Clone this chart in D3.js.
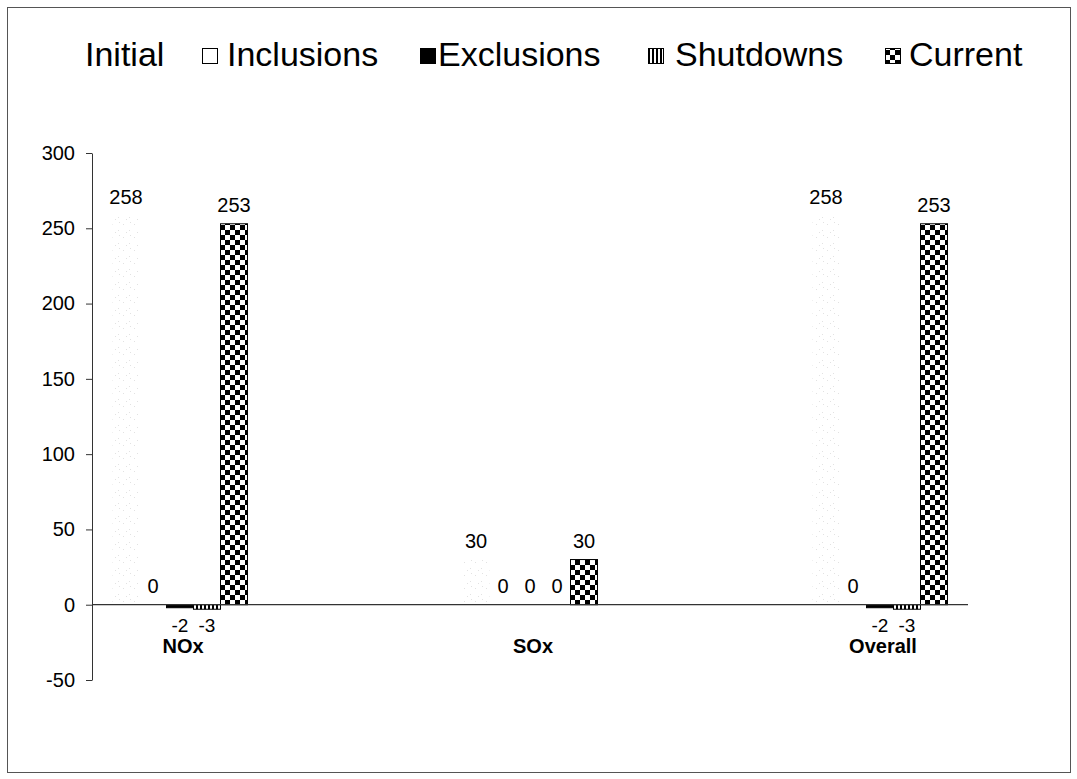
<!DOCTYPE html>
<html>
<head>
<meta charset="utf-8">
<script src="https://cdn.jsdelivr.net/npm/d3@7"></script>
<style>
  html, body { margin: 0; padding: 0; background: #fff; }
  svg { display: block; font-family: "Liberation Sans", Arial, sans-serif; }
</style>
</head>
<body>
<svg id="chart" width="1077" height="779"></svg>
<script>
// Emission totals by pollutant, broken down by change type
const categories = ["NOx", "SOx", "Overall"];
const seriesNames = ["Initial", "Inclusions", "Exclusions", "Shutdowns", "Current"];
const initialValues = [258, 30, 258];
const inclusionsValues = [0, 0, 0];
const exclusionsValues = [-2, 0, -2];
const shutdownsValues = [-3, 0, -3];
const currentValues = [253, 30, 253];
const yTickValues = [-50, 0, 50, 100, 150, 200, 250, 300];

const seriesValues = {
  Initial: initialValues,
  Inclusions: inclusionsValues,
  Exclusions: exclusionsValues,
  Shutdowns: shutdownsValues,
  Current: currentValues
};

const svg = d3.select("#chart");
const defs = svg.append("defs");

// Very faint speckle fill for the Initial series
const speck = defs.append("pattern").attr("id", "pat-initial")
  .attr("patternUnits", "userSpaceOnUse").attr("width", 11).attr("height", 13);
speck.append("rect").attr("width", 11).attr("height", 13).attr("fill", "#fff");
[[2, 3], [8, 9], [5, 11], [9, 1]].forEach(([px, py]) => {
  speck.append("rect").attr("x", px).attr("y", py).attr("width", 1).attr("height", 1)
    .attr("fill", "#e2e2e2");
});

// Vertical stripes for Shutdowns
const stripes = defs.append("pattern").attr("id", "pat-shut")
  .attr("patternUnits", "userSpaceOnUse").attr("width", 4).attr("height", 4);
stripes.append("rect").attr("width", 4).attr("height", 4).attr("fill", "#fff");
stripes.append("rect").attr("x", 0).attr("width", 2).attr("height", 4).attr("fill", "#000");

// Checkerboard for Current
const checker = defs.append("pattern").attr("id", "pat-current")
  .attr("patternUnits", "userSpaceOnUse").attr("width", 10).attr("height", 10);
checker.append("rect").attr("width", 10).attr("height", 10).attr("fill", "#000");
checker.append("rect").attr("x", 0).attr("y", 0).attr("width", 5).attr("height", 5).attr("fill", "#fff");
checker.append("rect").attr("x", 5).attr("y", 5).attr("width", 5).attr("height", 5).attr("fill", "#fff");

const fills = {
  Initial: "url(#pat-initial)",
  Inclusions: "#fff",
  Exclusions: "#000",
  Shutdowns: "url(#pat-shut)",
  Current: "url(#pat-current)"
};
const strokes = {
  Initial: "none",
  Inclusions: "#000",
  Exclusions: "#000",
  Shutdowns: "#000",
  Current: "#000"
};

// Outer frame
svg.append("rect").attr("x", 7.5).attr("y", 7.5).attr("width", 1063).attr("height", 765)
  .attr("fill", "none").attr("stroke", "#555").attr("stroke-width", 1);

// Scales
const x = d3.scaleBand().domain(categories).range([5, 1055]).padding(0);
const xInner = d3.scaleBand().domain(seriesNames).range([0, 135]).padding(0);
const groupLeft = c => x(c) + x.bandwidth() / 2 - 67.5;
const y = d3.scaleLinear().domain([-50, 300]).range([680, 153]);

// Y axis (plain hyphen for negatives)
const yAxis = svg.append("g").attr("transform", "translate(92,0)")
  .call(d3.axisLeft(y).tickValues(yTickValues).tickFormat(d => String(d))
    .tickSize(6).tickSizeOuter(0).tickPadding(11));
yAxis.select(".domain").attr("stroke", "#333");
yAxis.selectAll(".tick line").attr("stroke", "#333");
yAxis.selectAll(".tick text").attr("font-size", 20).attr("fill", "#000")
  .attr("font-family", "'Liberation Sans', Arial, sans-serif");

// Bars
seriesNames.forEach(name => {
  const vals = seriesValues[name];
  svg.append("g").selectAll("rect").data(categories.map((c, i) => ({ c, v: vals[i] })))
    .join("rect")
    .attr("x", d => groupLeft(d.c) + xInner(name))
    .attr("y", d => y(Math.max(0, d.v)))
    .attr("width", xInner.bandwidth())
    .attr("height", d => Math.abs(y(d.v) - y(0)))
    .attr("fill", fills[name])
    .attr("stroke", d => d.v === 0 ? "none" : strokes[name])
    .attr("stroke-width", 1);
});

// Zero line
svg.append("line").attr("x1", 92).attr("x2", 968).attr("y1", y(0)).attr("y2", y(0))
  .attr("stroke", "#333").attr("stroke-width", 1.2);

// Value labels
seriesNames.forEach(name => {
  const vals = seriesValues[name];
  svg.append("g").selectAll("text").data(categories.map((c, i) => ({ c, v: vals[i] })))
    .join("text")
    .attr("x", d => groupLeft(d.c) + xInner(name) + xInner.bandwidth() / 2)
    .attr("y", d => d.v < 0 ? 632 : y(d.v) - 12)
    .attr("text-anchor", "middle")
    .attr("font-size", d => d.v < 0 ? 19 : 20)
    .attr("fill", "#000")
    .text(d => d.v);
});

// Category labels
svg.append("g").selectAll("text").data(categories).join("text")
  .attr("x", d => x(d) + x.bandwidth() / 2 + 3)
  .attr("y", 653)
  .attr("text-anchor", "middle")
  .attr("font-size", 20)
  .attr("font-weight", "bold")
  .attr("fill", "#000")
  .text(d => d);

// Legend
const legendTextX = [85, 227, 438, 675, 909];
const legendKeyX = [null, 202, 420, 648, 885];
const legendKeyFill = {
  Initial: null,
  Inclusions: "#fff",
  Exclusions: "#000",
  Shutdowns: "url(#pat-shut)",
  Current: "url(#pat-current)"
};
const legend = svg.append("g");
seriesNames.forEach((name, i) => {
  if (legendKeyFill[name]) {
    legend.append("rect")
      .attr("x", legendKeyX[i] + 0.5).attr("y", 48.5)
      .attr("width", 15).attr("height", 15)
      .attr("fill", legendKeyFill[name])
      .attr("stroke", "#000").attr("stroke-width", 1);
  }
  legend.append("text")
    .attr("x", legendTextX[i]).attr("y", 66)
    .attr("font-size", 34)
    .attr("fill", "#000")
    .text(name);
});
</script>
</body>
</html>
